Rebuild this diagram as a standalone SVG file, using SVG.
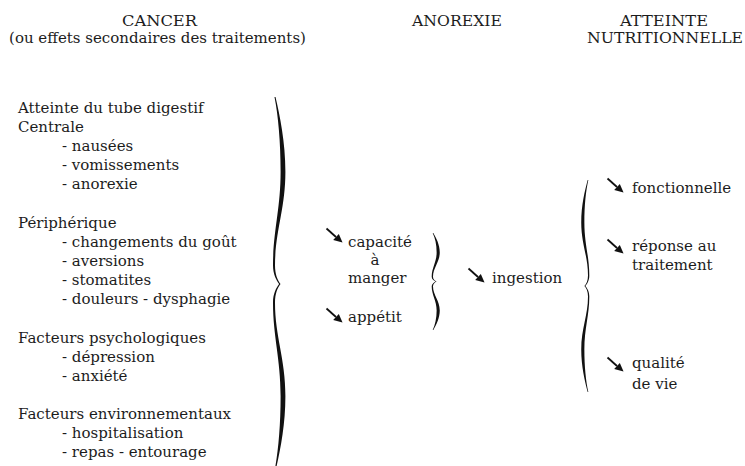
<svg xmlns="http://www.w3.org/2000/svg" width="745" height="466" viewBox="0 0 745 466">
<style>
text{font-family:"DejaVu Serif","Liberation Serif",serif;font-size:15px;fill:#1c1c1c}
.h{font-size:15.5px}
.br{fill:#111}
.arw line{stroke:#111;stroke-width:1.8}
.arw polygon{fill:#111}
</style>
<defs>
<path id="brace" d="M0.5,0 C4.8,5 10.4,12 10.4,20 C10.4,30 0,36 0,45 C0,47.5 2.6,49 5.5,50 C2.6,51 0,52.5 0,55 C0,64 10.4,70 10.4,80 C10.4,88 4.8,95 0.5,100 L-0.5,100 C3.2,95 5.6,88 5.6,80 C5.6,70 -2,64 -2,55 C-2,52.5 1.4,51 4.1,50 C1.4,49 -2,47.5 -2,45 C-2,36 5.6,30 5.6,20 C5.6,12 3.2,5 -0.5,0 Z"/>
<g id="arrow" class="arw">
<line x1="0.5" y1="0.5" x2="10" y2="9"/>
<polygon points="16.5,14.5 12.8,6 7.2,11.9"/>
</g>
</defs>
<rect width="745" height="466" fill="#fff"/>
<g id="headers">
<text class="h" x="159.5" y="26" text-anchor="middle" textLength="75" lengthAdjust="spacingAndGlyphs">CANCER</text>
<text x="157.5" y="43" text-anchor="middle">(ou effets secondaires des traitements)</text>
<text class="h" x="457" y="26" text-anchor="middle" textLength="90" lengthAdjust="spacingAndGlyphs">ANOREXIE</text>
<text class="h" x="664" y="26" text-anchor="middle" textLength="88" lengthAdjust="spacingAndGlyphs">ATTEINTE</text>
<text class="h" x="665" y="43" text-anchor="middle" textLength="156" lengthAdjust="spacingAndGlyphs">NUTRITIONNELLE</text>
</g>
<g id="causes">
<text x="18" y="112.5">Atteinte du tube digestif</text>
<text x="18" y="131.5">Centrale</text>
<text x="62" y="150.5">- nausées</text>
<text x="62" y="170">- vomissements</text>
<text x="62" y="189">- anorexie</text>
<text x="18" y="227.5">Périphérique</text>
<text x="62" y="246.5">- changements du goût</text>
<text x="62" y="265.5">- aversions</text>
<text x="62" y="285">- stomatites</text>
<text x="62" y="304">- douleurs - dysphagie</text>
<text x="18" y="342.5">Facteurs psychologiques</text>
<text x="62" y="362">- dépression</text>
<text x="62" y="381">- anxiété</text>
<text x="18" y="419">Facteurs environnementaux</text>
<text x="62" y="438">- hospitalisation</text>
<text x="62" y="457">- repas - entourage</text>
</g>
<g id="anorexie">
<text x="348" y="247">capacité</text>
<text x="375" y="265" text-anchor="middle">à</text>
<text x="348" y="283">manger</text>
<text x="348" y="322">appétit</text>
</g>
<g id="ingestion">
<text x="492" y="283">ingestion</text>
</g>
<g id="atteinte">
<text x="632" y="193">fonctionnelle</text>
<text x="632" y="251">réponse au</text>
<text x="632" y="270">traitement</text>
<text x="632" y="368">qualité</text>
<text x="632" y="389">de vie</text>
</g>
<g id="connectors">
<use href="#brace" class="br" transform="translate(275,97) scale(1,3.74)"/>
<use href="#brace" class="br" transform="translate(433,233) scale(0.65,0.97)"/>
<use href="#brace" class="br" transform="translate(588,180) scale(-0.65,2.12)"/>
<use href="#arrow" transform="translate(326,228)"/>
<use href="#arrow" transform="translate(326,308)"/>
<use href="#arrow" transform="translate(468,268)"/>
<use href="#arrow" transform="translate(607,178)"/>
<use href="#arrow" transform="translate(607,239)"/>
<use href="#arrow" transform="translate(607,357)"/>
</g>
</svg>
